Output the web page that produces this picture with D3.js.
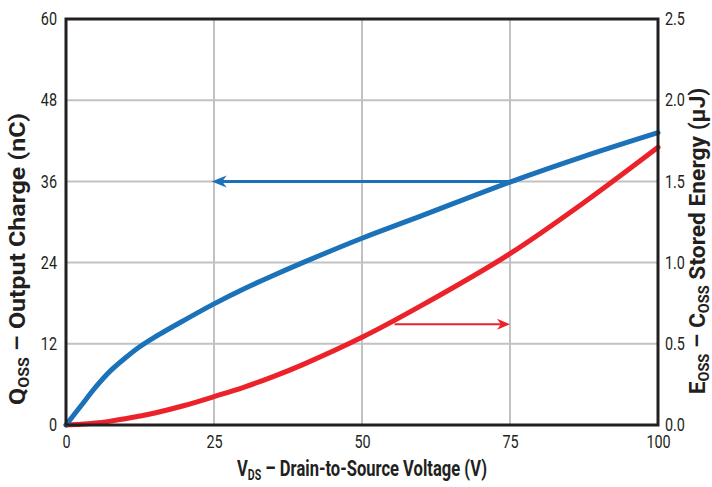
<!DOCTYPE html>
<html>
<head>
<meta charset="utf-8">
<script src="https://cdn.jsdelivr.net/npm/d3@7"></script>
<style>
  html, body { margin: 0; padding: 0; background: #fff; }
  svg { display: block; }
  text { font-family: "Liberation Sans Narrow", "Arial Narrow", "Roboto", sans-serif; fill: #231f20; }
</style>
</head>
<body>
<svg id="chart" width="712" height="487"></svg>
<script>
// Drain-source voltage samples (V)
const vds = [0, 2.5, 5, 7.5, 10, 12.5, 15, 20, 25, 30, 35, 40, 50, 60, 75, 87.5, 100];
// Output charge Qoss (nC)
const qoss = [0, 2.8, 5.6, 8.0, 9.9, 11.6, 13.0, 15.5, 17.9, 20.1, 22.1, 24.0, 27.6, 30.9, 35.9, 39.7, 43.2];
// Coss stored energy Eoss (µJ)
const eoss = [0, 0.004, 0.012, 0.024, 0.038, 0.055, 0.074, 0.12, 0.175, 0.232, 0.298, 0.372, 0.54, 0.735, 1.055, 1.37, 1.71];

const xTicks = [0, 25, 50, 75, 100];
const qTicks = [0, 12, 24, 36, 48, 60];
const eTicks = [0, 0.5, 1.0, 1.5, 2.0, 2.5];

// Arrows pointing each curve to its axis
const qArrow = { y: 36, from: 76, to: 24.6 };
const eArrow = { y: 0.62, from: 55.5, to: 75 };

const svg = d3.select("#chart");
const L = 66, R = 658, T = 19, B = 425;

const x = d3.scaleLinear().domain([0, 100]).range([L, R]);
const yQ = d3.scaleLinear().domain([0, 60]).range([B, T]);
const yE = d3.scaleLinear().domain([0, 2.5]).range([B, T]);

const grid = "#c2c2c2";
const blue = "#1b72b8";
const red = "#ec222b";
const ink = "#231f20";

// grid lines
svg.append("g").selectAll("line").data(xTicks.slice(1, -1)).join("line")
  .attr("x1", d => x(d)).attr("x2", d => x(d)).attr("y1", T).attr("y2", B)
  .attr("stroke", grid).attr("stroke-width", 2);
svg.append("g").selectAll("line").data(qTicks.slice(1, -1)).join("line")
  .attr("x1", L).attr("x2", R).attr("y1", d => yQ(d)).attr("y2", d => yQ(d))
  .attr("stroke", grid).attr("stroke-width", 2);

// axes (labels only; the frame is drawn separately), narrowed glyphs
const squeeze = 0.8;
const tickFont = g => g.selectAll("text")
  .attr("font-size", 18).style("fill", ink)
  .attr("x", function () { return (+this.getAttribute("x") || 0) / squeeze; })
  .attr("transform", `scale(${squeeze},1)`);
svg.append("g").attr("transform", `translate(${L},0)`)
  .call(d3.axisLeft(yQ).tickValues(qTicks).tickSize(0).tickPadding(9))
  .call(g => g.select(".domain").remove()).call(tickFont);
svg.append("g").attr("transform", `translate(${R},0)`)
  .call(d3.axisRight(yE).tickValues(eTicks).tickSize(0).tickPadding(7).tickFormat(d3.format(".1f")))
  .call(g => g.select(".domain").remove()).call(tickFont);
svg.append("g").attr("transform", `translate(0,${B})`)
  .call(d3.axisBottom(x).tickValues(xTicks).tickSize(0).tickPadding(10))
  .call(g => g.select(".domain").remove()).call(tickFont);

// curves
const idx = d3.range(vds.length);
const qLine = d3.line().x(i => x(vds[i])).y(i => yQ(qoss[i])).curve(d3.curveCatmullRom.alpha(0.5));
const eLine = d3.line().x(i => x(vds[i])).y(i => yE(eoss[i])).curve(d3.curveCatmullRom.alpha(0.5));

svg.append("path").attr("d", eLine(idx)).attr("fill", "none")
  .attr("stroke", red).attr("stroke-width", 5).attr("stroke-linecap", "round");
svg.append("path").attr("d", qLine(idx)).attr("fill", "none")
  .attr("stroke", blue).attr("stroke-width", 5).attr("stroke-linecap", "round");

// arrows
function arrow(x0, x1, y, color, w, len, half) {
  const dir = Math.sign(x1 - x0);
  svg.append("line").attr("x1", x0).attr("x2", x1 - dir * len * 0.6).attr("y1", y).attr("y2", y)
    .attr("stroke", color).attr("stroke-width", w);
  const p = d3.path();
  p.moveTo(x1, y);
  p.lineTo(x1 - dir * len, y - half);
  p.lineTo(x1 - dir * len * 0.7, y);
  p.lineTo(x1 - dir * len, y + half);
  p.closePath();
  svg.append("path").attr("d", p.toString()).attr("fill", color);
}
arrow(x(qArrow.from), x(qArrow.to), yQ(qArrow.y), blue, 3, 15, 6);
arrow(x(eArrow.from), x(eArrow.to), yE(eArrow.y), red, 2, 13, 5.5);

// frame
svg.append("rect").attr("x", L).attr("y", T).attr("width", R - L).attr("height", B - T)
  .attr("fill", "none").attr("stroke", ink).attr("stroke-width", 3);

// axis titles: built at natural width, then narrowed horizontally to a set length
function axisTitle(parts, cx, cy, rotate, len) {
  const g = svg.append("g");
  const t = g.append("text").attr("text-anchor", "middle")
    .attr("font-size", 22).attr("font-weight", "bold").style("fill", ink);
  let lowered = false;
  parts.forEach(([s, isSub]) => {
    const sp = t.append("tspan").text(s);
    if (isSub) { sp.attr("font-size", 14).attr("dy", lowered ? 0 : 4); lowered = true; }
    else { if (lowered) sp.attr("dy", -4); lowered = false; }
  });
  const w = t.node().getComputedTextLength();
  const sx = len / w;
  g.attr("transform", `translate(${cx},${cy}) rotate(${rotate}) scale(${sx},1)`);
}
axisTitle([["V"], ["DS", true], [" \u2013 Drain-to-Source Voltage (V)"]], 362, 476, 0, 250);
axisTitle([["Q"], ["OSS", true], [" \u2013 Output Charge (nC)"]], 25, 259, -90, 292);
axisTitle([["E"], ["OSS", true], [" \u2013 C"], ["OSS", true], [" Stored Energy (\u00b5J)"]], 705, 241, -90, 307);
</script>
</body>
</html>
